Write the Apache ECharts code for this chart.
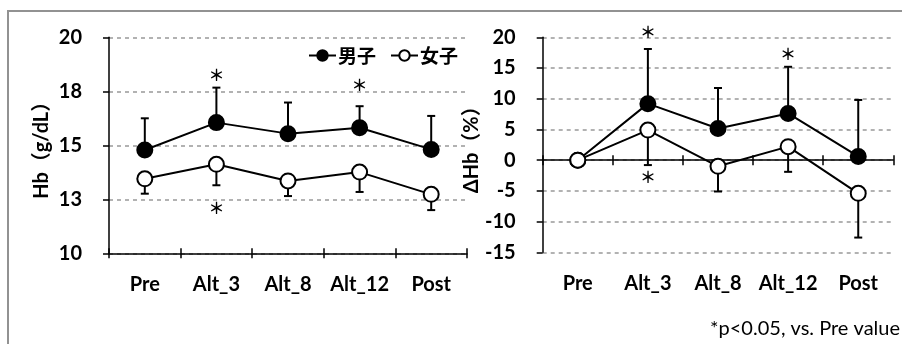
<!DOCTYPE html>
<html>
<head>
<meta charset="utf-8">
<script src="https://cdn.jsdelivr.net/npm/echarts@6/dist/echarts.min.js"></script>
<style>
  html, body { margin: 0; padding: 0; background: #fff; }
  #chart { width: 902px; height: 344px; }
</style>
</head>
<body>
<div id="chart"></div>
<script>
// Sampling points
const categories = ['Pre', 'Alt_3', 'Alt_8', 'Alt_12', 'Post'];
const seriesNames = ['男子', '女子'];

// Hb (g/dL): mean and SD
const hbMaleMean   = [14.78, 16.05, 15.54, 15.81, 14.81];
const hbMaleSD     = [1.47, 1.62, 1.44, 1.00, 1.55];
const hbFemaleMean = [13.45, 14.12, 13.35, 13.76, 12.73];
const hbFemaleSD   = [0.69, 0.97, 0.70, 0.92, 0.73];

// ΔHb (%) relative to Pre: mean and SD
const dMaleMean   = [0, 9.2, 5.15, 7.6, 0.6];
const dMaleSD     = [0, 8.9, 6.6, 7.6, 9.2];
const dFemaleMean = [0, 4.9, -1.0, 2.2, -5.4];
const dFemaleSD   = [0, 5.7, 4.1, 4.1, 7.2];

// Significance marks (*): value-axis height of each mark, null where none
const hbStarsMale   = [null, 18.24, null, 17.78, null];
const hbStarsFemale = [null, 12.1, null, null, null];
const dStarsMale    = [null, 20.8, null, 17.25, null];
const dStarsFemale  = [null, -2.8, null, null, null];

const footnote = '*p<0.05, vs. Pre value';

const FONT = 'Lato, "Noto Sans CJK JP", sans-serif';
const CJK = '"Noto Sans CJK JP", sans-serif';
const LABEL_SIZE = 20;

// Vertical error bars (one-sided) with a cap at the outer end
function errorBars(means, sds, dir, xi, yi) {
  return {
    type: 'custom', xAxisIndex: xi, yAxisIndex: yi, z: 2, silent: true,
    data: means.map((m, i) => [i, m, m + dir * sds[i]]),
    renderItem(params, api) {
      const i = api.value(0);
      const a = api.value(1), b = api.value(2);
      if (a === b) return null;
      const p0 = api.coord([i, a]);
      const p1 = api.coord([i, b]);
      const half = 4;
      const st = { stroke: '#000', lineWidth: 2 };
      return {
        type: 'group',
        children: [
          { type: 'line', shape: { x1: p0[0], y1: p0[1], x2: p1[0], y2: p1[1] }, style: st },
          { type: 'line', shape: { x1: p1[0] - half, y1: p1[1], x2: p1[0] + half, y2: p1[1] }, style: st }
        ]
      };
    }
  };
}

// Asterisk marks at given value heights
function stars(ys, xi, yi) {
  return {
    type: 'custom', xAxisIndex: xi, yAxisIndex: yi, z: 5, silent: true, clip: false,
    data: ys.map((y, i) => [i, y]).filter(d => d[1] !== null),
    renderItem(params, api) {
      const p = api.coord([api.value(0), api.value(1)]);
      return {
        type: 'text',
        style: {
          x: p[0], y: p[1], text: '＊',
          font: 'bold 16px ' + CJK, fill: '#000',
          textAlign: 'center', textVerticalAlign: 'middle'
        }
      };
    }
  };
}

function meanLine(name, data, filled, xi, yi) {
  return {
    name, type: 'line', xAxisIndex: xi, yAxisIndex: yi, z: 3,
    data,
    symbol: 'circle', symbolSize: 15,
    lineStyle: { color: '#000', width: 2 },
    itemStyle: { color: filled ? '#000' : '#fff', borderColor: '#000', borderWidth: 2 },
    emphasis: { disabled: true }
  };
}

const tickStyle = { color: '#000', width: 1.5 };
const labelStyle = { interval: 0, margin: 21, fontFamily: FONT, fontSize: LABEL_SIZE, fontWeight: 'bold', color: '#000' };

function catAxis(extra) {
  return Object.assign({ type: 'category', data: categories, boundaryGap: true }, extra);
}

const splitDash = { show: true, lineStyle: { color: '#999', width: 1.5, type: [4, 4] } };
const LEFT_H = 216;

const option = {
  animation: false,
  backgroundColor: '#fff',
  grid: [
    { left: 109, top: 37.3, width: 358, height: LEFT_H },
    { left: 542.7, top: 37.3, width: 350.6, height: 215 }
  ],
  legend: {
    data: seriesNames,
    left: 303, top: 41,
    itemWidth: 27, itemHeight: 13, itemGap: 14,
    textStyle: { fontFamily: CJK, fontSize: 19, fontWeight: 'bold', color: '#000', padding: [0, 0, 0, -3] },
    selectedMode: false
  },
  xAxis: [
    // left chart: labels, axis line and downward ticks
    catAxis({
      gridIndex: 0, position: 'bottom',
      axisLine: { show: true, onZero: false, lineStyle: tickStyle },
      axisTick: { show: true, interval: 0, length: 5, lineStyle: tickStyle },
      axisLabel: labelStyle
    }),
    // left chart: upward half of the crossing ticks (top axis shifted onto the bottom edge)
    catAxis({
      gridIndex: 0, position: 'top', offset: -LEFT_H,
      axisLine: { show: false, onZero: false },
      axisTick: { show: true, interval: 0, length: 5, lineStyle: tickStyle },
      axisLabel: { show: false }
    }),
    // right chart: labels at the bottom
    catAxis({
      gridIndex: 1, position: 'bottom',
      axisLine: { show: false, onZero: false },
      axisTick: { show: false },
      axisLabel: labelStyle
    }),
    // right chart: axis line at zero with downward ticks
    catAxis({
      gridIndex: 1, position: 'bottom',
      axisLine: { show: true, onZero: true, onZeroAxisIndex: 1, lineStyle: tickStyle },
      axisTick: { show: true, interval: 0, length: 5, lineStyle: tickStyle },
      axisLabel: { show: false }
    }),
    // right chart: upward half of the crossing ticks at zero
    catAxis({
      gridIndex: 1, position: 'top',
      axisLine: { show: false, onZero: true, onZeroAxisIndex: 1 },
      axisTick: { show: true, interval: 0, length: 5, lineStyle: tickStyle },
      axisLabel: { show: false }
    })
  ],
  yAxis: [
    {
      type: 'value', gridIndex: 0, min: 10, max: 20, interval: 2.5,
      name: 'Hb（g/dL）', nameLocation: 'middle', nameGap: 57,
      nameTextStyle: { fontFamily: FONT, fontSize: LABEL_SIZE, fontWeight: 'bold', color: '#000' },
      axisLine: { show: true, lineStyle: tickStyle },
      axisTick: { show: true, length: 6, lineStyle: tickStyle },
      axisLabel: {
        margin: 27, fontFamily: FONT, fontSize: LABEL_SIZE, fontWeight: 'bold', color: '#000',
        formatter: v => String(Math.round(v))
      },
      splitLine: splitDash
    },
    {
      type: 'value', gridIndex: 1, min: -15, max: 20, interval: 5,
      name: 'ΔHb（%）', nameLocation: 'middle', nameGap: 50,
      nameTextStyle: { fontFamily: FONT, fontSize: LABEL_SIZE, fontWeight: 'bold', color: '#000' },
      axisLine: { show: true, onZero: false, lineStyle: tickStyle },
      axisTick: { show: true, length: 6, lineStyle: tickStyle },
      axisLabel: { margin: 27, fontFamily: FONT, fontSize: LABEL_SIZE, fontWeight: 'bold', color: '#000' },
      splitLine: splitDash
    }
  ],
  graphic: [
    {
      type: 'rect', silent: true, z: 0,
      shape: { x: 8, y: 11, width: 1200, height: 1200 },
      style: { fill: 'none', stroke: '#929292', lineWidth: 2 }
    },
    {
      type: 'text', right: 2, top: 319, silent: true,
      style: { text: footnote, font: '20px ' + FONT, fill: '#000' }
    }
  ],
  series: [
    errorBars(hbMaleMean, hbMaleSD, 1, 0, 0),
    errorBars(hbFemaleMean, hbFemaleSD, -1, 0, 0),
    meanLine(seriesNames[0], hbMaleMean, true, 0, 0),
    meanLine(seriesNames[1], hbFemaleMean, false, 0, 0),
    stars(hbStarsMale, 0, 0),
    stars(hbStarsFemale, 0, 0),

    errorBars(dMaleMean, dMaleSD, 1, 2, 1),
    errorBars(dFemaleMean, dFemaleSD, -1, 2, 1),
    meanLine(seriesNames[0], dMaleMean, true, 2, 1),
    meanLine(seriesNames[1], dFemaleMean, false, 2, 1),
    stars(dStarsMale, 2, 1),
    stars(dStarsFemale, 2, 1)
  ]
};

const chart = echarts.init(document.getElementById('chart'), null, { renderer: 'canvas' });
chart.setOption(option);
</script>
</body>
</html>
